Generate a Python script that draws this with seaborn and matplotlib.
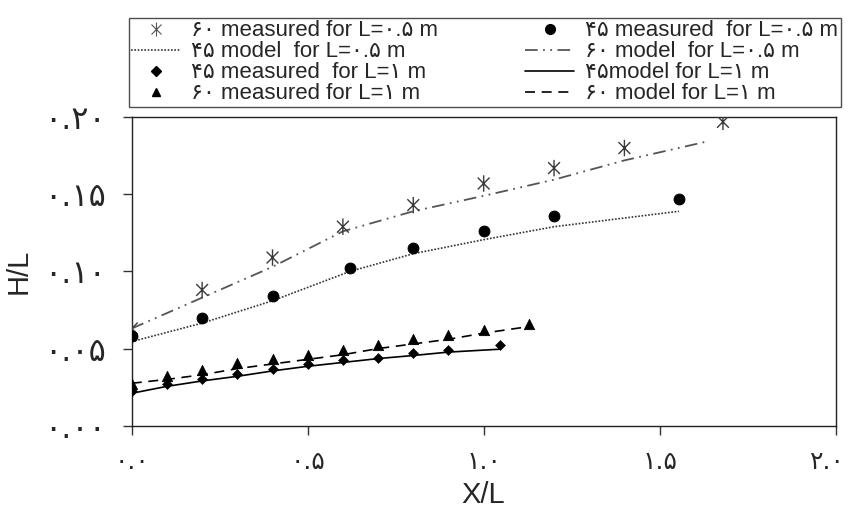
import numpy as np
import pandas as pd
import matplotlib
matplotlib.use("Agg")
import matplotlib.pyplot as plt
import matplotlib.transforms as mtransforms
import seaborn as sns
from matplotlib.lines import Line2D
from matplotlib.path import Path

# Measured and model values of H/L against X/L
x_m60_05 = [0.0, 0.2, 0.4, 0.6, 0.8, 1.0, 1.2, 1.4, 1.68]
y_m60_05 = [0.063, 0.088, 0.109, 0.129, 0.143, 0.157, 0.167, 0.180, 0.197]

x_m45_05 = [0.0, 0.2, 0.4, 0.62, 0.8, 1.0, 1.2, 1.555]
y_m45_05 = [0.058, 0.070, 0.084, 0.102, 0.115, 0.126, 0.136, 0.147]

x_mod60_05 = [0.0, 0.2, 0.4, 0.6, 0.8, 1.0, 1.2, 1.4, 1.63]
y_mod60_05 = [0.063, 0.083, 0.103, 0.126, 0.139, 0.149, 0.1595, 0.172, 0.184]

x_mod45_05 = [0.0, 0.2, 0.4, 0.62, 0.8, 1.0, 1.2, 1.555]
y_mod45_05 = [0.0545, 0.0665, 0.081, 0.100, 0.1115, 0.1206, 0.129, 0.139]

x_m45_1 = [0.0, 0.1, 0.2, 0.3, 0.4, 0.5, 0.6, 0.7, 0.8, 0.9, 1.047]
y_m45_1 = [0.0227, 0.0269, 0.0303, 0.0336, 0.037, 0.0399, 0.0425, 0.0442, 0.047, 0.049, 0.0526]
y_mod45_1 = [0.021, 0.0255, 0.029, 0.032, 0.0355, 0.0385, 0.041, 0.0435, 0.0455, 0.0477, 0.0496]

x_m60_1 = [0.0, 0.1, 0.2, 0.3, 0.4, 0.5, 0.6, 0.7, 0.8, 0.9, 1.0, 1.13]
y_m60_1 = [0.027, 0.0325, 0.036, 0.0405, 0.043, 0.046, 0.049, 0.052, 0.056, 0.059, 0.062, 0.0656]
y_mod60_1 = [0.0275, 0.030, 0.033, 0.037, 0.040, 0.043, 0.046, 0.050, 0.053, 0.056, 0.060, 0.0643]

x_ticks = [0.0, 0.5, 1.0, 1.5, 2.0]
y_ticks = [0.00, 0.05, 0.10, 0.15, 0.20]

labels = {
    "m60_05": "۶۰ measured for L=۰.۵ m",
    "mod45_05": "۴۵ model  for L=۰.۵ m",
    "m45_1": "۴۵ measured  for L=۱ m",
    "m60_1": "۶۰ measured for L=۱ m",
    "m45_05": "۴۵ measured  for L=۰.۵ m",
    "mod60_05": "۶۰ model  for L=۰.۵ m",
    "mod45_1": "۴۵model for L=۱ m",
    "mod60_1": "۶۰ model for L=۱ m",
}

sns.set_style("ticks")
plt.rcParams["font.family"] = ["Liberation Sans", "DejaVu Sans"]

fa_digits = str.maketrans("0123456789", "۰۱۲۳۴۵۶۷۸۹")

# asterisk: vertical bar crossed by an X
c = 0.72
star = Path([(0, -1), (0, 1), (-c, -c), (c, c), (-c, c), (c, -c)],
            [Path.MOVETO, Path.LINETO, Path.MOVETO, Path.LINETO,
             Path.MOVETO, Path.LINETO])

fig = plt.figure(figsize=(8.5, 5.12), dpi=100)
ax = fig.add_axes([0.155, 0.1686, 0.828, 0.6025])

# model curves
style_60_05 = dict(color="#555555", lw=1.3, linestyle=(0, (7, 3, 1, 3, 1, 3)))
style_45_05 = dict(color="#333333", lw=1.2, linestyle=(0, (1, 1)))
style_45_1 = dict(color="black", lw=1.2, linestyle="-")
style_60_1 = dict(color="black", lw=1.2, linestyle=(0, (6, 4)))

sns.lineplot(x=x_mod60_05, y=y_mod60_05, ax=ax, sort=False, **style_60_05)
sns.lineplot(x=x_mod45_05, y=y_mod45_05, ax=ax, sort=False, **style_45_05)
sns.lineplot(x=x_m45_1, y=y_mod45_1, ax=ax, sort=False, **style_45_1)
sns.lineplot(x=x_m60_1, y=y_mod60_1, ax=ax, sort=False, **style_60_1)

# measured points
sns.scatterplot(x=x_m60_05, y=y_m60_05, ax=ax, marker=star, s=140,
                facecolor="none", edgecolor="#3a3a3a", linewidth=1.0, zorder=5)
sns.scatterplot(x=x_m45_05, y=y_m45_05, ax=ax, marker="o", s=62,
                color="black", edgecolor="black", zorder=5)
sns.scatterplot(x=x_m45_1, y=y_m45_1, ax=ax, marker="D", s=26,
                color="black", edgecolor="black", zorder=5)
sns.scatterplot(x=x_m60_1, y=y_m60_1, ax=ax, marker="^", s=55,
                color="black", edgecolor="black", zorder=5)

ax.set_xlim(0, 2.0)
ax.set_ylim(0, 0.20)
ax.set_xticks(x_ticks)
ax.set_yticks(y_ticks)
ax.set_xticklabels([f"{v:.1f}".translate(fa_digits) for v in x_ticks],
                   family="DejaVu Sans", fontsize=18)
ax.set_yticklabels([f"{v:.2f}".translate(fa_digits) for v in y_ticks],
                   family="DejaVu Sans", fontsize=23)
ax.tick_params(axis="both", direction="out", length=6.5, width=1.0,
               color="#333333")
ax.tick_params(axis="x", pad=11)
ax.tick_params(axis="y", pad=12)
for sp in ax.spines.values():
    sp.set_color("#222222")
    sp.set_linewidth(1.0)
    sp.set_visible(True)

# keep the last x tick label inside the canvas
last = ax.get_xticklabels()[-1]
last.set_transform(last.get_transform() +
                   mtransforms.ScaledTranslation(-6 / 72, 0, fig.dpi_scale_trans))

ax.set_xlabel("X/L", fontsize=21, labelpad=5)
ax.set_ylabel("H/L", fontsize=21, labelpad=8)

handles = [
    Line2D([], [], ls="none", marker=star, ms=10, mfc="none",
           mec="#555555", mew=0.8),
    Line2D([], [], **style_45_05),
    Line2D([], [], ls="none", marker="D", ms=5, color="black"),
    Line2D([], [], ls="none", marker="^", ms=6, color="black"),
    Line2D([], [], ls="none", marker="o", ms=7, color="black"),
    Line2D([], [], **style_60_05),
    Line2D([], [], **style_45_1),
    Line2D([], [], **style_60_1),
]
order = ["m60_05", "mod45_05", "m45_1", "m60_1",
         "m45_05", "mod60_05", "mod45_1", "mod60_1"]
leg = fig.legend(handles, [labels[k] for k in order], ncol=2,
                 loc="lower left", bbox_to_anchor=(0.152, 0.7916, 0.837, 0.1834),
                 mode="expand", borderaxespad=0, fontsize=16,
                 frameon=True, fancybox=False, edgecolor="#222222",
                 handlelength=2.2, handletextpad=0.5, labelspacing=0.0,
                 borderpad=0.1, columnspacing=2.0)
leg.get_frame().set_linewidth(1.0)

fig.savefig("out.png", dpi=100)
